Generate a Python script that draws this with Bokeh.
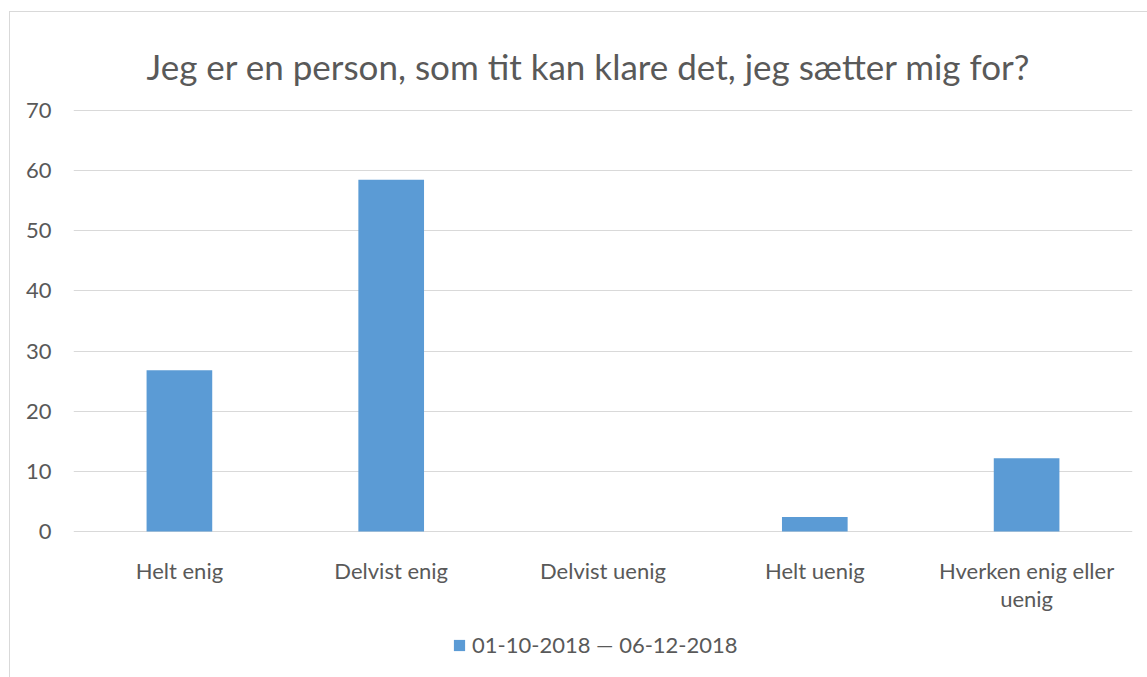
from bokeh.plotting import figure
from bokeh.models import ColumnDataSource, Legend, LegendItem, Range1d, FixedTicker, Label
from bokeh.core.properties import value
from bokeh.embed import file_html
from bokeh.resources import INLINE

title_text = "Jeg er en person, som tit kan klare det, jeg sætter mig for?"
categories = ["Helt enig", "Delvist enig", "Delvist uenig", "Helt uenig", "Hverken enig eller uenig"]
values = [26.8, 58.5, 0.0, 2.4, 12.2]
label_line1 = ["Helt enig", "Delvist enig", "Delvist uenig", "Helt uenig", "Hverken enig eller"]
label_line2 = ["", "", "", "", "uenig"]
series_name = "01-10-2018 \u2014 06-12-2018"
y_ticks = [0, 10, 20, 30, 40, 50, 60, 70]

FONT = "Lato"
TXT = "#595959"
BAR = "#5B9BD5"
GRID = "#D9D9D9"

# ---- layout geometry (pixels) ----
W, H = 1147, 677
LEFT, RIGHT = 73, 15          # plot area left / right margins
Y70_PX, Y0_PX = 110, 531      # pixel rows of the 70 and 0 gridlines
ppu = (Y0_PX - Y70_PX) / 70.0 # pixels per value unit
y_start = -(H - Y0_PX) / ppu
y_end = 70 + Y70_PX / ppu

def y_at(px):
    """data y for a pixel row"""
    return (Y0_PX - px) / ppu

# category slot centres on a numeric axis (slot i spans i..i+1)
xpos = [i + 0.5 for i in range(len(categories))]
src = ColumnDataSource(dict(cat=categories, x=xpos, val=values))
lab = ColumnDataSource(dict(x=xpos, t1=label_line1, t2=label_line2))

p = figure(x_range=Range1d(0, len(categories)), y_range=Range1d(y_start, y_end),
           width=W, height=H, output_backend="svg", toolbar_location=None,
           x_axis_location=None, title=None,
           min_border_left=LEFT, min_border_right=RIGHT, min_border_top=0, min_border_bottom=0)
p.outline_line_color = None
p.background_fill_color = None
p.border_fill_color = None
p.styles = {
    "background": "linear-gradient(#D9D9D9,#D9D9D9) 9px 11px / 1px 100% no-repeat, "
                  "linear-gradient(#D9D9D9,#D9D9D9) 9px 11px / 100% 1px no-repeat, #FFFFFF",
}

p.xgrid.grid_line_color = None
p.ygrid.ticker = FixedTicker(ticks=y_ticks)
p.ygrid.grid_line_color = GRID
p.ygrid.grid_line_width = 1

r = p.vbar(x="x", top="val", width=0.31, source=src, fill_color=BAR, line_color=None)

ya = p.yaxis[0]
ya.ticker = FixedTicker(ticks=y_ticks)
ya.axis_line_color = None
ya.major_tick_line_color = None
ya.minor_tick_line_color = None
ya.major_tick_out = 0
ya.major_tick_in = 0
ya.major_label_standoff = 22
ya.major_label_text_font = FONT
ya.major_label_text_font_size = "22px"
ya.major_label_text_color = TXT

# category labels (two lines for the long one)
p.text(x="x", y=y_at(569.5), text="t1", source=lab, text_align="center",
       text_baseline="alphabetic", text_font=value(FONT), text_font_size="22px", text_color=TXT)
p.text(x="x", y=y_at(597.5), text="t2", source=lab, text_align="center",
       text_baseline="alphabetic", text_font=value(FONT), text_font_size="22px", text_color=TXT)

# chart title
p.add_layout(Label(x=0, y=y_at(65), x_offset=73, text=title_text, text_align="left",
                   text_baseline="alphabetic", text_font=FONT, text_font_size="35px",
                   text_color=TXT))

legend = Legend(items=[LegendItem(label=series_name, renderers=[r])],
                location=(379, 19), orientation="horizontal",
                glyph_width=14, glyph_height=14, label_standoff=6,
                padding=0, margin=0, spacing=0,
                border_line_color=None, background_fill_alpha=0,
                label_text_font=FONT, label_text_font_size="22px", label_text_color=TXT)
p.add_layout(legend, "center")

open("out.html", "w").write(file_html(p, INLINE))
